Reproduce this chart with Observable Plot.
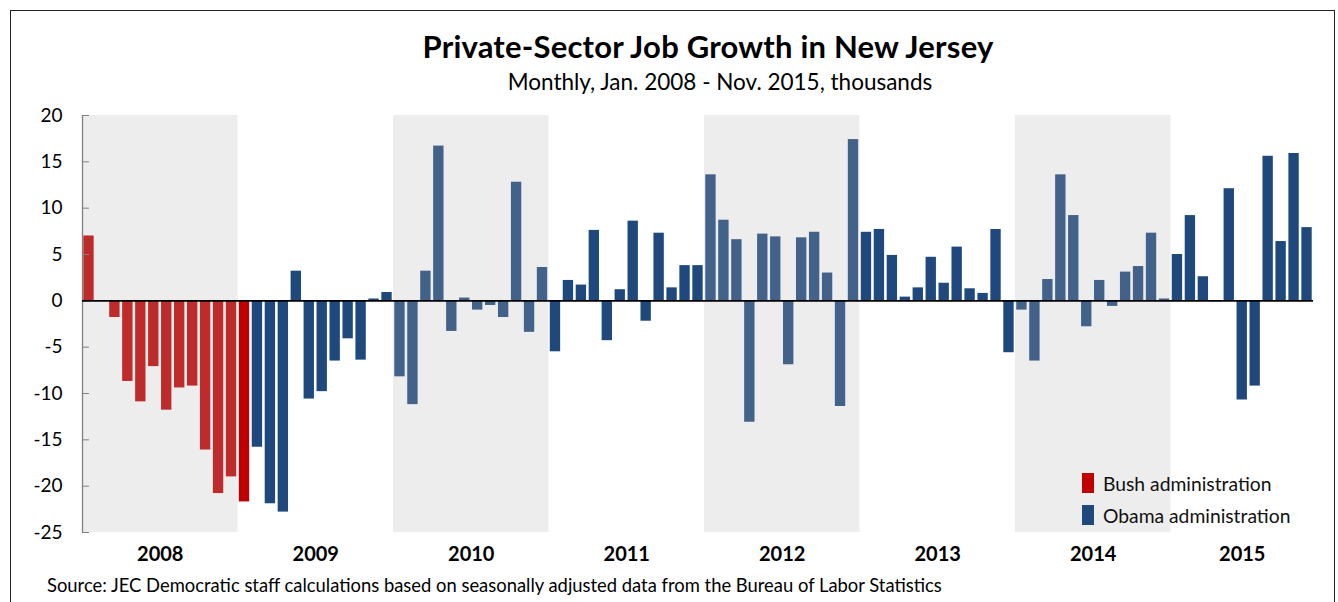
<!DOCTYPE html>
<html>
<head>
<meta charset="utf-8">
<script src="https://cdn.jsdelivr.net/npm/d3@7"></script>
<script src="https://cdn.jsdelivr.net/npm/@observablehq/plot@0.6"></script>
<style>
  html, body { margin: 0; padding: 0; background: #fff; }
  #wrap { position: relative; width: 1338px; height: 602px; overflow: hidden; font-family: Lato, "Open Sans", sans-serif; color: #000; }
  #frame { position: absolute; left: 10px; top: 10px; width: 1325px; height: 700px; border: 1px solid #222; box-sizing: border-box; }
  #title { position: absolute; left: 0; width: 1416px; top: 27px; text-align: center; font-weight: bold; font-size: 31px; letter-spacing: 0.2px; }
  #subtitle { position: absolute; left: 0; width: 1440px; top: 68px; text-align: center; font-size: 22.5px; }
  #chart { position: absolute; left: 0; top: 0; }
  #legend { position: absolute; left: 1082px; top: 467px; font-size: 19.3px; color: #111; }
  #legend div { display: flex; align-items: center; height: 32px; }
  #legend span.sw { display: inline-block; width: 12px; height: 20px; margin-right: 9px; }
  #source { position: absolute; left: 47px; top: 574px; font-size: 18.4px; }
</style>
</head>
<body>
<div id="wrap">
  <div id="frame"></div>
  <div id="chart"></div>
  <div id="title">Private-Sector Job Growth in New Jersey</div>
  <div id="subtitle">Monthly, Jan. 2008 - Nov. 2015, thousands</div>
  <div id="legend"></div>
  <div id="source">Source: JEC Democratic staff calculations based on seasonally adjusted data from the Bureau of Labor Statistics</div>
</div>
<script>
// ---- data (thousands, monthly change in private-sector jobs) ----
const years = [2008, 2009, 2010, 2011, 2012, 2013, 2014, 2015];
const v2008 = [7.0, 0.0, -1.8, -8.7, -10.9, -7.1, -11.8, -9.4, -9.2, -16.1, -20.8, -19.0];
const v2009 = [-21.7, -15.8, -21.9, -22.8, 3.2, -10.6, -9.8, -6.5, -4.1, -6.4, 0.2, 0.9];
const v2010 = [-8.2, -11.2, 3.2, 16.7, -3.3, 0.3, -1.0, -0.5, -1.8, 12.8, -3.4, 3.6];
const v2011 = [-5.5, 2.2, 1.7, 7.6, -4.3, 1.2, 8.6, -2.2, 7.3, 1.4, 3.8, 3.8];
const v2012 = [13.6, 8.7, 6.6, -13.1, 7.2, 6.9, -6.9, 6.8, 7.4, 3.0, -11.4, 17.4];
const v2013 = [7.4, 7.7, 4.9, 0.4, 1.4, 4.7, 1.9, 5.8, 1.3, 0.8, 7.7, -5.6];
const v2014 = [-1.0, -6.5, 2.3, 13.6, 9.2, -2.8, 2.2, -0.6, 3.1, 3.7, 7.3, 0.2];
const v2015 = [5.0, 9.2, 2.6, -0.1, 12.1, -10.7, -9.2, 15.6, 6.4, 15.9, 7.9];
const valuesByYear = [v2008, v2009, v2010, v2011, v2012, v2013, v2014, v2015];
const administrations = ["Bush administration", "Obama administration"];
const adminColors = ["#c00000", "#1f497d"];
const bushMonths = 13; // Jan 2008 - Jan 2009
const shadedYears = [2008, 2010, 2012, 2014];
const yTicks = [20, 15, 10, 5, 0, -5, -10, -15, -20, -25];

// ---- derived tables ----
const data = [];
const yearInfo = [];
let idx = 0;
years.forEach((yr, k) => {
  const vals = valuesByYear[k];
  yearInfo.push({year: yr, start: idx, end: idx + vals.length, mid: idx + vals.length / 2});
  vals.forEach((v, m) => {
    data.push({i: idx, year: yr, month: m + 1, value: v, admin: idx < bushMonths ? administrations[0] : administrations[1]});
    idx++;
  });
});
const totalMonths = idx;
const bands = yearInfo.filter(d => shadedYears.includes(d.year));

const chart = Plot.plot({
  width: 1338,
  height: 602,
  marginLeft: 82,
  marginRight: 25,
  marginTop: 115,
  marginBottom: 70,
  style: {fontFamily: "Lato, 'Open Sans', sans-serif", background: "transparent"},
  x: {type: "linear", domain: [0, totalMonths], axis: null},
  y: {domain: [-25, 20], axis: null},
  color: {domain: administrations, range: adminColors},
  marks: [
    Plot.rect(bands, {x1: "start", x2: "end", fill: "#ffffff"}),
    Plot.rectY(data, {x1: "i", x2: d => d.i + 1, y: "value", fill: "admin", insetLeft: 1.3, insetRight: 1.3}),
    Plot.rect(bands, {x1: "start", x2: "end", fill: "#b3b3b3", fillOpacity: 0.24}),
    Plot.ruleX([0], {stroke: "#808080", strokeWidth: 1.3}),
    Plot.axisY({ticks: yTicks, tickSize: -7, tickPadding: 27, stroke: "#808080", color: "#000", fontSize: 19, tickFormat: d => String(d), label: null}),
    Plot.ruleY([0], {stroke: "#000", strokeWidth: 1.6}),
    Plot.text(yearInfo, {x: "mid", frameAnchor: "bottom", dy: 28, text: d => String(d.year), fontWeight: "bold", fontSize: 20, fill: "#000"})
  ]
});
document.getElementById("chart").appendChild(chart);

const legend = document.getElementById("legend");
administrations.forEach((a, k) => {
  const row = document.createElement("div");
  row.innerHTML = `<span class="sw" style="background:${adminColors[k]}"></span><span>${a}</span>`;
  legend.appendChild(row);
});
</script>
</body>
</html>
